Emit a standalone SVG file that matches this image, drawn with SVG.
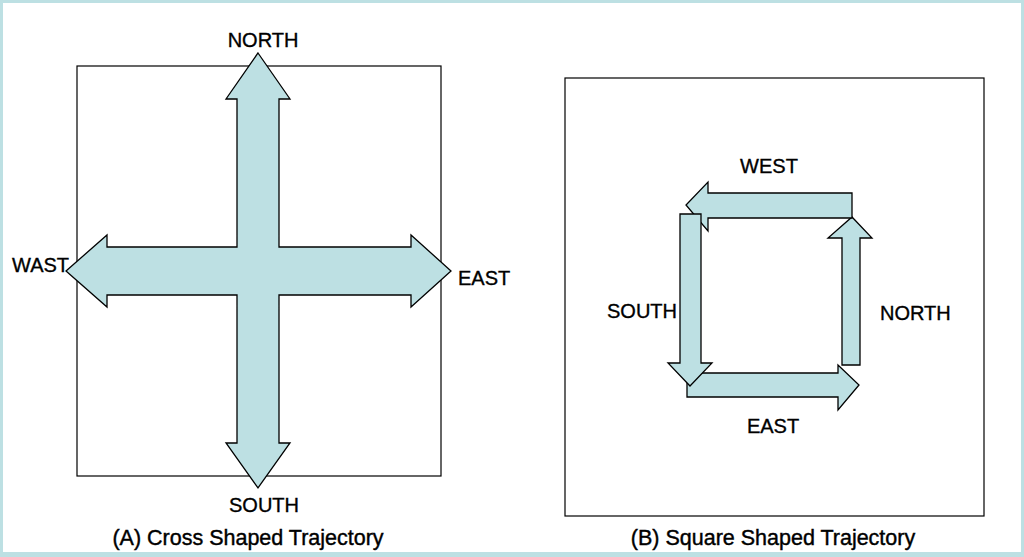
<svg xmlns="http://www.w3.org/2000/svg" width="1024" height="557" viewBox="0 0 1024 557">
<style>
.arrow{fill:#bde0e3;stroke:#000;stroke-width:1.3;stroke-linejoin:miter}
.box{fill:none;stroke:#000;stroke-width:1.2}
.lbl{font-family:"Liberation Sans",Arial,sans-serif;font-size:20px;fill:#000;stroke:#000;stroke-width:0.35}
.cap{font-family:"Liberation Sans",Arial,sans-serif;font-size:21.5px;fill:#000;stroke:#000;stroke-width:0.4}
</style>
<rect x="0" y="0" width="1024" height="557" fill="#fff"/>
<path d="M0 0H1024V557H0Z M3 3V552H1021V3Z" fill="#bde0e3" fill-rule="evenodd"/>
<g id="panelA">
<rect class="box" x="77" y="66" width="364" height="410"/>
</g>
<g id="panelB">
<rect class="box" x="565" y="78" width="419" height="438"/>
</g>
<g id="connectors">
<polygon id="cross" class="arrow" points="258,53 290,99 279,99 279,247 411,247 411,235 451,271 411,307 411,295 279,295 279,443 290,443 258,488 226,443 237,443 237,295 107,295 107,307 66,271 107,235 107,247 237,247 237,99 226,99"/>
<polygon id="sq-east" class="arrow" points="687,373 838,373 838,365 859,385 838,410 838,397 687,397"/>
<polygon id="sq-north" class="arrow" points="842,365 842,238 828,238 852,217 872,238 860,238 860,365"/>
<polygon id="sq-west" class="arrow" points="852,193 852,218 708,218 708,231 686,205 708,182 708,193"/>
<polygon id="sq-south" class="arrow" points="680,214 701,214 701,363 712,363 690,386 668,363 680,363"/>
</g>
<g id="labelsA">
<text class="lbl" x="263" y="47" text-anchor="middle">NORTH</text>
<text class="lbl" x="264" y="512" text-anchor="middle">SOUTH</text>
<text class="lbl" x="12" y="272">WAST</text>
<text class="lbl" x="458" y="285">EAST</text>
</g>
<g id="labelsB">
<text class="lbl" x="769" y="173" text-anchor="middle">WEST</text>
<text class="lbl" x="773" y="433" text-anchor="middle">EAST</text>
<text class="lbl" x="607" y="318">SOUTH</text>
<text class="lbl" x="880" y="320">NORTH</text>
</g>
<g id="captions">
<text class="cap" x="248" y="545" text-anchor="middle">(A) Cross Shaped Trajectory</text>
<text class="cap" x="773" y="545" text-anchor="middle">(B) Square Shaped Trajectory</text>
</g>
</svg>
